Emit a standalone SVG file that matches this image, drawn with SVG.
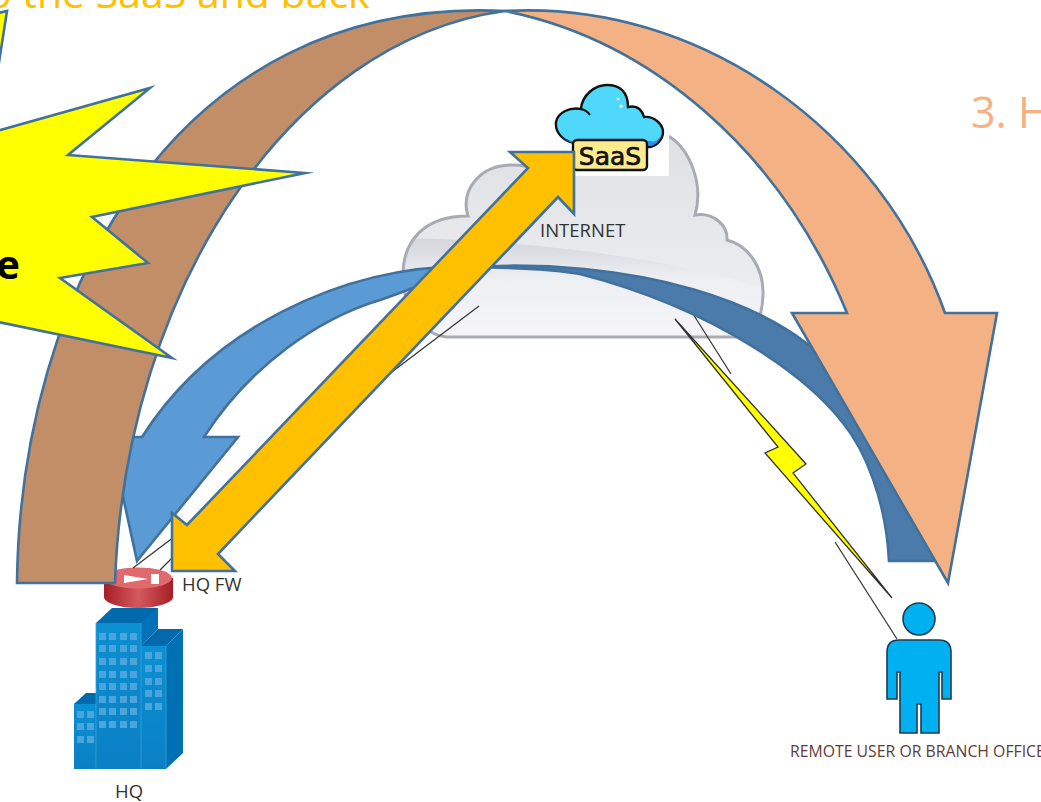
<svg xmlns="http://www.w3.org/2000/svg" width="1041" height="802" viewBox="0 0 1041 802">
<style>
.lbl{font-family:"Open Sans","Liberation Sans",sans-serif;fill:#333}
.arrow{stroke:#41719c;stroke-width:2.6;stroke-linejoin:miter;stroke-miterlimit:12}
.wire{stroke:#3a3a3a;stroke-width:1.3;fill:none}
.win{fill:#4ba5dc}
</style>
<defs>
<linearGradient id="cl" x1="0" y1="0" x2="0" y2="1"><stop offset="0" stop-color="#dfe0e5"/><stop offset="1" stop-color="#f0f1f4"/></linearGradient>
<linearGradient id="band" x1="0" y1="0" x2="0" y2="1"><stop offset="0" stop-color="#d3d5db"/><stop offset="0.4" stop-color="#eeeff3"/><stop offset="1" stop-color="#f6f6f9"/></linearGradient>
<linearGradient id="red" x1="0" y1="0" x2="1" y2="0"><stop offset="0" stop-color="#a51f25"/><stop offset="0.5" stop-color="#d4595e"/><stop offset="1" stop-color="#a51f25"/></linearGradient>
<linearGradient id="front" x1="0" y1="0" x2="0" y2="1"><stop offset="0" stop-color="#0a90d2"/><stop offset="1" stop-color="#0b7fc4"/></linearGradient>
<clipPath id="cloudClip"><path d="M447,337 C425,335 403,312 403,275 C403,240 425,216 468,216 C460,190 480,165 512,165 C535,165 550,175 560,185 C590,150 640,130 670,137 C690,150 704,185 695,215 C713,212 728,225 727,240 C750,246 764,270 763,295 C762,320 755,333 735,337 Z"/></clipPath>
</defs>
<rect width="1041" height="802" fill="#fff"/>
<text x="-13" y="8" font-family="'Open Sans','Liberation Sans',sans-serif" font-size="41" fill="#ffc000">o the SaaS and back</text>
<text x="971" y="128" font-family="'Open Sans','Liberation Sans',sans-serif" font-size="43" fill="#f4b183">3. H</text>
<g id="internet">
<path d="M447,337 C425,335 403,312 403,275 C403,240 425,216 468,216 C460,190 480,165 512,165 C535,165 550,175 560,185 C590,150 640,130 670,137 C690,150 704,185 695,215 C713,212 728,225 727,240 C750,246 764,270 763,295 C762,320 755,333 735,337 Z" fill="url(#cl)"/>
<path clip-path="url(#cloudClip)" d="M400,238 C520,240 660,255 770,290 V340 H400 Z" fill="url(#band)"/>
<path d="M447,337 C425,335 403,312 403,275 C403,240 425,216 468,216 C460,190 480,165 512,165 C535,165 550,175 560,185 C590,150 640,130 670,137 C690,150 704,185 695,215 C713,212 728,225 727,240 C750,246 764,270 763,295 C762,320 755,333 735,337 Z" fill="none" stroke="#a9abb3" stroke-width="3"/>
<text class="lbl" x="540" y="237" font-size="18.5">INTERNET</text>
</g>
<g id="saas">
<rect x="552" y="80" width="117" height="96" fill="#fff"/>
<path d="M574,143 C560,140 555,130 556,122 C558,112 570,107 581,109 C582,95 595,85 607,85 C620,85 628,92 628,107 C637,105 642,110 644,117 C655,116 663,125 663,132 C663,140 656,146 650,147 Z" fill="#4fd8fa" stroke="#111" stroke-width="2.4"/>
<path d="M560,132 C562,140 568,141 574,141 L650,141 C656,143 660,138 661,134 C660,141 655,146 650,146 L574,143 C566,141 561,138 560,132 Z" fill="#2b8ff0"/>
<path d="M581,109 C586,110 588,112 590,115" fill="none" stroke="#111" stroke-width="2"/>
<circle cx="618" cy="99" r="1.3" fill="#fff"/><circle cx="621" cy="106" r="1.6" fill="#fff"/>
<rect x="573" y="140" width="74" height="30" rx="4" fill="#fdeb8e" stroke="#111" stroke-width="2.4"/>
<text x="610" y="165" text-anchor="middle" font-family="'DejaVu Sans',sans-serif" font-size="25" fill="#111" stroke="#111" stroke-width=".7">SaaS</text>
</g>
<g id="remote-user">
<circle cx="919" cy="619" r="16" fill="#00b0f0" stroke="#1d3d4e" stroke-width="1.6"/>
<path d="M899,640 H939 Q951,640 951,652 V699 H942 V672 H939 V733 H921 V704 H917 V733 H900 V672 H897 V699 H887 V652 Q887,640 899,640 Z" fill="#00b0f0" stroke="#1d3d4e" stroke-width="1.6"/>
<text x="790" y="757" font-family="'Open Sans','Liberation Sans',sans-serif" font-size="15.8" fill="#5f3b3b">REMOTE USER OR BRANCH OFFICE</text>
</g>
<g id="hq">
<path d="M96,623 L112,608 H158 V628 L141,646 V623 Z" fill="#0269ad"/>
<path d="M141,623 L158,608 V629 L141,646 Z" fill="#0072b8"/>
<path d="M141,646 L158,629 H183 L166,646 Z" fill="#0269ad"/>
<path d="M166,646 L183,629 V753 L166,769 Z" fill="#0070b4"/>
<path d="M74,704 L86,693 H96 V704 Z" fill="#0269ad"/>
<rect x="74" y="704" width="22" height="65" fill="url(#front)"/>
<rect x="96" y="623" width="45" height="146" fill="url(#front)"/>
<rect x="141" y="646" width="25" height="123" fill="url(#front)"/>
<path d="M96,623 V769 M141,623 V769 M166,646 V769" stroke="#39a2dc" stroke-width=".8" fill="none"/>
<g class="win">
<path d="M99,633h7v7h-7z M109,633h7v7h-7z M120,633h7v7h-7z M130,633h7v7h-7z M99,645h7v7h-7z M109,645h7v7h-7z M120,645h7v7h-7z M130,645h7v7h-7z M99,658h7v7h-7z M109,658h7v7h-7z M120,658h7v7h-7z M130,658h7v7h-7z M99,671h7v7h-7z M109,671h7v7h-7z M120,671h7v7h-7z M130,671h7v7h-7z M99,683h7v7h-7z M109,683h7v7h-7z M120,683h7v7h-7z M130,683h7v7h-7z M99,696h7v7h-7z M109,696h7v7h-7z M120,696h7v7h-7z M130,696h7v7h-7z M99,708h7v7h-7z M109,708h7v7h-7z M120,708h7v7h-7z M130,708h7v7h-7z M99,721h7v7h-7z M109,721h7v7h-7z M120,721h7v7h-7z M130,721h7v7h-7z M145,652h7v7h-7z M155,652h7v7h-7z M145,665h7v7h-7z M155,665h7v7h-7z M145,678h7v7h-7z M155,678h7v7h-7z M145,690h7v7h-7z M155,690h7v7h-7z M145,703h7v7h-7z M155,703h7v7h-7z M77,711h7v7h-7z M87,711h7v7h-7z M77,723h7v7h-7z M87,723h7v7h-7z M77,736h7v7h-7z M87,736h7v7h-7z"/>
</g>
<text class="lbl" x="115" y="798" font-size="18.5">HQ</text>
</g>
<g id="hq-fw">
<path d="M104,578 V597 C104,603 120,608 138,608 C156,608 173,603 173,597 V578 Z" fill="url(#red)"/>
<ellipse cx="138" cy="578" rx="34" ry="10.5" fill="#e0696d"/>
<path d="M124,575 L148,579 L124,583 Z M151,574 h8 v10 h-8 Z" fill="#fff"/>
<text class="lbl" x="182" y="591" font-size="18.5">HQ FW</text>
</g>
<g id="connectors">
<path class="wire" d="M133,568 L479,306 M160,570 L180,550 M688,306 L731,374 M835,542 L897,639"/>
<path d="M675,319 L806,464 L793,473 L892,598 L765,453 L778,447 Z" fill="#ff0" stroke="#333" stroke-width="1.3"/>
<path class="arrow" d="M137,561 L238,437 H204 C250,365 320,318 380,300 C410,290 440,276 470,268 L470,266 C340,266 210,330 142,437 H110 Z" fill="#5b9bd5"/>
<path class="arrow" d="M470,267 C620,258 790,295 850,390 C880,440 910,510 935,561 H889 C886,500 865,450 843,423 C810,380 720,310 580,274 C540,267 500,268 470,267 Z" fill="#4a7bab"/>
<path class="arrow" d="M17,583 C20,300 170,-5 505,11 C290,40 125,290 115,583 Z" fill="#c28e68"/>
<path class="arrow" d="M505,11 C700,0 880,130 945,313 H997 L948,583 L792,313 H847 C780,150 650,40 505,11 Z" fill="#f4b183"/>
<path class="arrow" d="M510,152 H574 V214 L558,197 L218,554 L235,571 H172 V513 L187,525 L528,168 Z" fill="#ffc000"/>
</g>
<g id="burst">
<path class="arrow" d="M-30,20 L7,11 L-3,75 L-60,147 L150,88 L68,155 L305,173 L92,217 L148,263 L60,278 L172,358 L-60,310 Z" fill="#ff0"/>
<text x="20" y="279" text-anchor="end" font-family="'Open Sans','Liberation Sans',sans-serif" font-size="40" font-weight="700" fill="#000">e</text>
</g>
</svg>
